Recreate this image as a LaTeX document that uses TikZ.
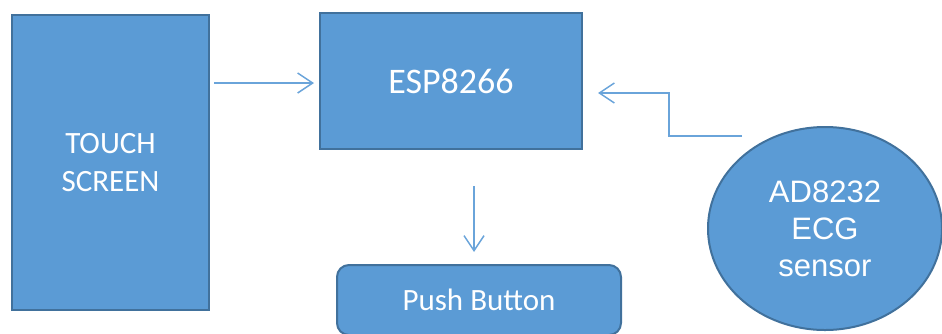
\documentclass[tikz,border=0pt]{standalone}
\usepackage{fontspec}
\setmainfont{Carlito}
\newfontfamily\arialf{Liberation Sans}
\usetikzlibrary{arrows.meta,shapes.geometric}
\definecolor{boxfill}{HTML}{5B9BD5}
\definecolor{boxline}{HTML}{41719C}
\definecolor{arrline}{HTML}{6AA4DA}
\tikzset{
  blk/.style={draw=boxline, fill=boxfill, line width=2pt, text=white, inner sep=0pt},
  arr/.style={draw=arrline, line width=1.5pt, -{Straight Barb[length=15pt,width=20pt,line width=1.5pt]}},
  ln/.style={draw=arrline, line width=1.5pt}
}
\begin{document}
\begin{tikzpicture}[x=1pt,y=-1pt]
\useasboundingbox (0,0) rectangle (942,333);
\node[blk, minimum width=197pt, minimum height=295pt, align=center, font=\fontsize{31}{38}\selectfont] (ts) at (110.5,162.5) {TOUCH\\SCREEN};
\node[blk, minimum width=262pt, minimum height=136pt, font=\fontsize{36}{40}\selectfont] (esp) at (451,81) {ESP8266};
\node[blk, rounded corners=12pt, minimum width=284pt, minimum height=70pt, font=\fontsize{31}{36}\selectfont] (pb) at (479,300) {Push Button};
\node[blk, ellipse, minimum width=234pt, minimum height=203pt, align=center, font=\arialf\fontsize{31}{37}\selectfont] (ecg) at (825,228.5) {AD8232\\ECG\\sensor};
% connectors
\coordinate (pbtop) at ([yshift=12pt]pb.north);
\draw[arr] ([xshift=4pt,yshift=-2pt]ts.east |- esp.west) -- ([xshift=-5pt,yshift=-2pt]esp.west);
\coordinate (ecgin) at (742,136);
\coordinate (bend) at (669,136);
\draw[arr] (ecgin) -- (bend) |- ([xshift=15pt,yshift=-12pt]esp.east);
\coordinate (espout) at (474,186);
\draw[arr] (espout) -- (espout |- pbtop);
\end{tikzpicture}
\end{document}
